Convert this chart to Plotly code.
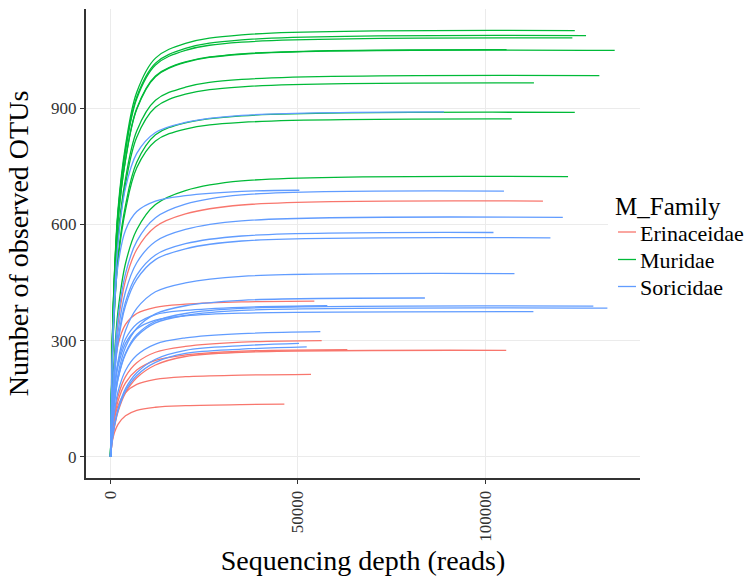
import plotly.graph_objects as go

# Rarefaction curves: OTUs observed at these sequencing depths, then at each sample's final depth
depth_steps = [0, 500, 1000, 2000, 4000, 7000, 12000, 20000, 35000]

families = ["Erinaceidae", "Muridae", "Soricidae"]
family_colors = {"Erinaceidae": "#F8766D", "Muridae": "#00BA38", "Soricidae": "#619CFF"}

# Muridae
muridae_end = [123900, 126900, 123250, 105700, 134550, 130450, 113000, 123900, 107070, 122100]
muridae_otus = [
    [0, 308, 462, 638, 803, 941, 1029, 1067, 1089, 1100],
    [0, 304, 457, 630, 794, 929, 1016, 1054, 1076, 1087],
    [0, 303, 454, 627, 789, 924, 1011, 1049, 1070, 1081],
    [0, 294, 441, 610, 767, 899, 983, 1019, 1040, 1051],
    [0, 294, 441, 608, 766, 897, 981, 1018, 1039, 1049],
    [0, 276, 413, 571, 718, 841, 920, 954, 974, 984],
    [0, 270, 405, 560, 704, 825, 902, 936, 955, 965],
    [0, 249, 373, 516, 649, 760, 831, 862, 880, 889],
    [0, 244, 366, 506, 637, 746, 815, 846, 863, 872],
    [0, 159, 253, 376, 499, 586, 651, 687, 712, 723],
]

# Soricidae
soricidae_end = [89000, 50400, 105000, 120700, 102200, 117400, 107800, 83900,
                 57860, 128850, 132600, 112850, 56000, 50300, 52360]
soricidae_otus = [
    [0, 267, 401, 552, 694, 783, 837, 863, 881, 890],
    [0, 261, 378, 495, 585, 633, 660, 674, 685, 688],
    [0, 151, 240, 357, 473, 556, 617, 652, 676, 686],
    [0, 136, 216, 321, 426, 501, 556, 587, 609, 618],
    [0, 127, 203, 301, 400, 469, 521, 550, 570, 579],
    [0, 124, 198, 294, 390, 458, 509, 537, 557, 565],
    [0, 104, 166, 246, 326, 383, 426, 449, 466, 473],
    [0, 90, 144, 213, 283, 332, 369, 390, 404, 410],
    [0, 117, 176, 242, 304, 343, 367, 378, 386, 390],
    [0, 86, 136, 202, 268, 315, 350, 370, 383, 389],
    [0, 84, 134, 200, 265, 311, 346, 365, 378, 384],
    [0, 113, 169, 233, 293, 330, 353, 364, 371, 375],
    [0, 71, 113, 168, 223, 262, 291, 307, 318, 323],
    [0, 47, 79, 123, 176, 217, 252, 275, 287, 293],
    [0, 45, 77, 119, 170, 210, 244, 267, 278, 284],
]

# Erinaceidae
erinaceidae_end = [115400, 54400, 56360, 63200, 105600, 53500, 46400]
erinaceidae_otus = [
    [0, 145, 231, 343, 455, 535, 594, 627, 650, 660],
    [0, 153, 221, 289, 342, 370, 386, 394, 400, 402],
    [0, 66, 105, 156, 207, 243, 270, 285, 296, 300],
    [0, 61, 97, 144, 191, 224, 249, 263, 273, 277],
    [0, 44, 74, 116, 165, 204, 237, 259, 270, 275],
    [0, 64, 96, 132, 166, 187, 200, 207, 211, 213],
    [0, 41, 61, 84, 106, 120, 128, 132, 135, 136],
]

x_ticks = [0, 50000, 100000]
y_ticks = [0, 300, 600, 900]

fig = go.Figure()

groups = [
    ("Erinaceidae", erinaceidae_end, erinaceidae_otus),
    ("Muridae", muridae_end, muridae_otus),
    ("Soricidae", soricidae_end, soricidae_otus),
]

for fam, ends, curves in groups:
    for i, (end, ys) in enumerate(zip(ends, curves)):
        xs = depth_steps + [end]
        fig.add_trace(go.Scatter(
            x=xs, y=ys, mode="lines",
            line=dict(color=family_colors[fam], width=1.3, shape="spline", smoothing=1.0),
            name=fam, legendgroup=fam, showlegend=False,
            hoverinfo="skip",
        ))

font_family = "Liberation Serif, Times New Roman, serif"

# layout geometry (pixels)
W, H = 752, 577
L, R, T, B = 86, 640, 9, 478


def px_x(px):
    return (px - L) / (R - L)


def px_y(py):
    return (B - py) / (B - T)


# ggplot-style legend drawn at the right of the panel
legend_box = dict(x0=608, x1=W, y0=185, y1=305)
fig.add_shape(type="rect", xref="paper", yref="paper", layer="above",
              x0=px_x(legend_box["x0"]), x1=px_x(legend_box["x1"]),
              y0=px_y(legend_box["y1"]), y1=px_y(legend_box["y0"]),
              fillcolor="white", line=dict(width=0))
fig.add_annotation(text="M_Family", xref="paper", yref="paper",
                   x=px_x(613), y=px_y(206), xanchor="left", yanchor="middle",
                   showarrow=False, font=dict(size=25, family=font_family, color="black"))
legend_rows = [232, 259.5, 286.5]
for fam, row in zip(families, legend_rows):
    fig.add_shape(type="line", xref="paper", yref="paper", layer="above",
                  x0=px_x(618), x1=px_x(636), y0=px_y(row), y1=px_y(row),
                  line=dict(color=family_colors[fam], width=1.3))
    fig.add_annotation(text=fam, xref="paper", yref="paper",
                       x=px_x(638), y=px_y(row + 1), xanchor="left", yanchor="middle",
                       showarrow=False, font=dict(size=22, family=font_family, color="black"))

fig.update_layout(
    width=W, height=H,
    margin=dict(l=L, r=W - R, t=T, b=H - B, autoexpand=False),
    paper_bgcolor="white", plot_bgcolor="white",
    font=dict(family=font_family, color="black"),
    showlegend=False,
    xaxis=dict(
        range=[-6540, 141300],
        tickvals=x_ticks, ticktext=[str(v) for v in x_ticks],
        tickangle=-90,
        tickfont=dict(size=17, family=font_family, color="#333333"),
        showgrid=True, gridcolor="#EBEBEB", gridwidth=1.2,
        zeroline=False,
        showline=True, linecolor="#333333", linewidth=2,
        ticks="outside", ticklen=4, tickcolor="#333333", tickwidth=1,
        title=dict(text="Sequencing depth (reads)", font=dict(size=28, family=font_family, color="black"), standoff=10),
        automargin=False,
    ),
    yaxis=dict(
        range=[-54.5, 1155.7],
        tickvals=y_ticks, ticktext=[str(v) for v in y_ticks],
        tickfont=dict(size=17, family=font_family, color="#333333"),
        showgrid=True, gridcolor="#EBEBEB", gridwidth=1.2,
        zeroline=False,
        showline=True, linecolor="#333333", linewidth=2,
        ticks="outside", ticklen=4, tickcolor="#333333", tickwidth=1,
        title=dict(text="Number of observed OTUs", font=dict(size=28, family=font_family, color="black"), standoff=14),
        automargin=False,
    ),
)

fig.write_html("out.html")
